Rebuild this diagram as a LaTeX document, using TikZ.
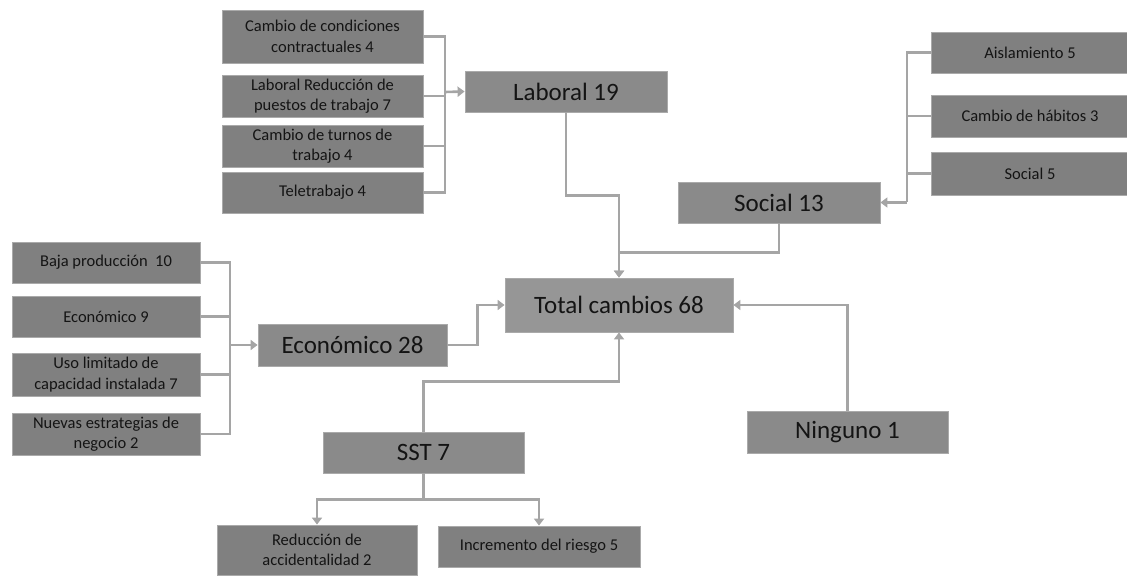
\documentclass[tikz,border=0pt]{standalone}
\usepackage{fontspec}
\setmainfont{Carlito}
\usetikzlibrary{arrows.meta}
\definecolor{hojagris}{RGB}{128,128,128}
\definecolor{ramagris}{RGB}{138,138,138}
\definecolor{totalgris}{RGB}{150,150,150}
\definecolor{borde}{RGB}{170,170,170}
\definecolor{linea}{RGB}{165,165,165}
\definecolor{texto}{RGB}{20,20,20}
\begin{document}
\begin{tikzpicture}[x=1pt, y=-1pt, >={Triangle[width=10pt,length=7pt]},
  hoja/.style={fill=hojagris, draw=borde, line width=.8pt, inner sep=1pt, align=center,
    text=texto, font=\fontsize{16.5}{20.5}\selectfont},
  rama/.style={fill=ramagris, draw=borde, line width=.8pt, inner sep=1pt,
    text=texto, font=\fontsize{25}{30}\selectfont},
  con/.style={draw=linea, line width=2.6pt},
  flecha/.style={con, ->}]
\useasboundingbox (0,0) rectangle (1127,577);

% ramas principales
\node[rama, fill=totalgris, minimum width=228pt, minimum height=54pt] (tot) at (619,305) {Total cambios 68};
\node[rama, minimum width=202pt, minimum height=41pt] (lab) at (566,91.5) {Laboral 19};
\node[rama, minimum width=202pt, minimum height=41pt] (soc) at (779,202.5) {Social 13};
\node[rama, minimum width=189pt, minimum height=42pt] (eco) at (352.5,345) {Económico 28};
\node[rama, minimum width=201pt, minimum height=41pt] (sst) at (423.5,452.5) {SST 7};
\node[rama, minimum width=201pt, minimum height=42pt] (nin) at (847.5,432) {Ninguno 1};

% laboral
\node[hoja, minimum width=201pt, minimum height=53pt] (lab1) at (322.5,36.5) {Cambio de condiciones\\contractuales 4};
\node[hoja, minimum width=201pt, minimum height=42pt] (lab2) at (322.5,96) {Laboral Reducción de\\puestos de trabajo 7};
\node[hoja, minimum width=201pt, minimum height=42pt] (lab3) at (322.5,146) {Cambio de turnos de\\trabajo 4};
\node[hoja, minimum width=201pt, minimum height=41pt] (lab4) at (322.5,192.5) {Teletrabajo 4};

% social
\node[hoja, minimum width=198pt, minimum height=41pt] (soc1) at (1030,52.5) {Aislamiento 5};
\node[hoja, minimum width=198pt, minimum height=42pt] (soc2) at (1030,116) {Cambio de hábitos 3};
\node[hoja, minimum width=198pt, minimum height=43pt] (soc3) at (1030,173.5) {Social 5};

% economico
\node[hoja, minimum width=188pt, minimum height=41pt] (eco1) at (106,262.5) {Baja producción~ 10};
\node[hoja, minimum width=188pt, minimum height=41pt] (eco2) at (106,316.5) {Económico 9};
\node[hoja, minimum width=188pt, minimum height=43pt] (eco3) at (106,374.5) {Uso limitado de\\capacidad instalada 7};
\node[hoja, minimum width=188pt, minimum height=42pt] (eco4) at (106,434) {Nuevas estrategias de\\negocio 2};

% sst
\node[hoja, minimum width=200pt, minimum height=50pt] (sst1) at (317,550) {Reducción de\\accidentalidad 2};
\node[hoja, minimum width=202pt, minimum height=41pt] (sst2) at (539,546.5) {Incremento del riesgo 5};

\coordinate (lbus) at (445,92);
\coordinate (sbus) at (907,202.5);
\coordinate (ebus) at (230,345);

\foreach \n in {lab1,lab2,lab3,lab4} \draw[con] (\n.east) -| (lbus);
\foreach \n in {soc1,soc2,soc3} \draw[con] (\n.west) -| (sbus);
\foreach \n in {eco1,eco2,eco3,eco4} \draw[con] (\n.east) -| (ebus);
\draw[flecha] (lbus) -- (lab.west);
\draw[flecha] (sbus) -- (soc.east);
\draw[flecha] (ebus) -- (eco.west);

\draw[flecha] (lab.south) -- ++(0,83) -| (tot.north);
\draw[flecha] (soc.south) -- ++(0,29) -| (tot.north);
\draw[flecha] (eco.east) -- ++(30,0) |- (tot.west);
\draw[flecha] (sst.north) -- ++(0,-50) -| (tot.south);
\draw[flecha] (nin.north) |- (tot.east);
\draw[flecha] (sst.south) -- ++(0,26) -| (sst1.north);
\draw[flecha] (sst.south) -- ++(0,26) -| (sst2.north);

\end{tikzpicture}
\end{document}
